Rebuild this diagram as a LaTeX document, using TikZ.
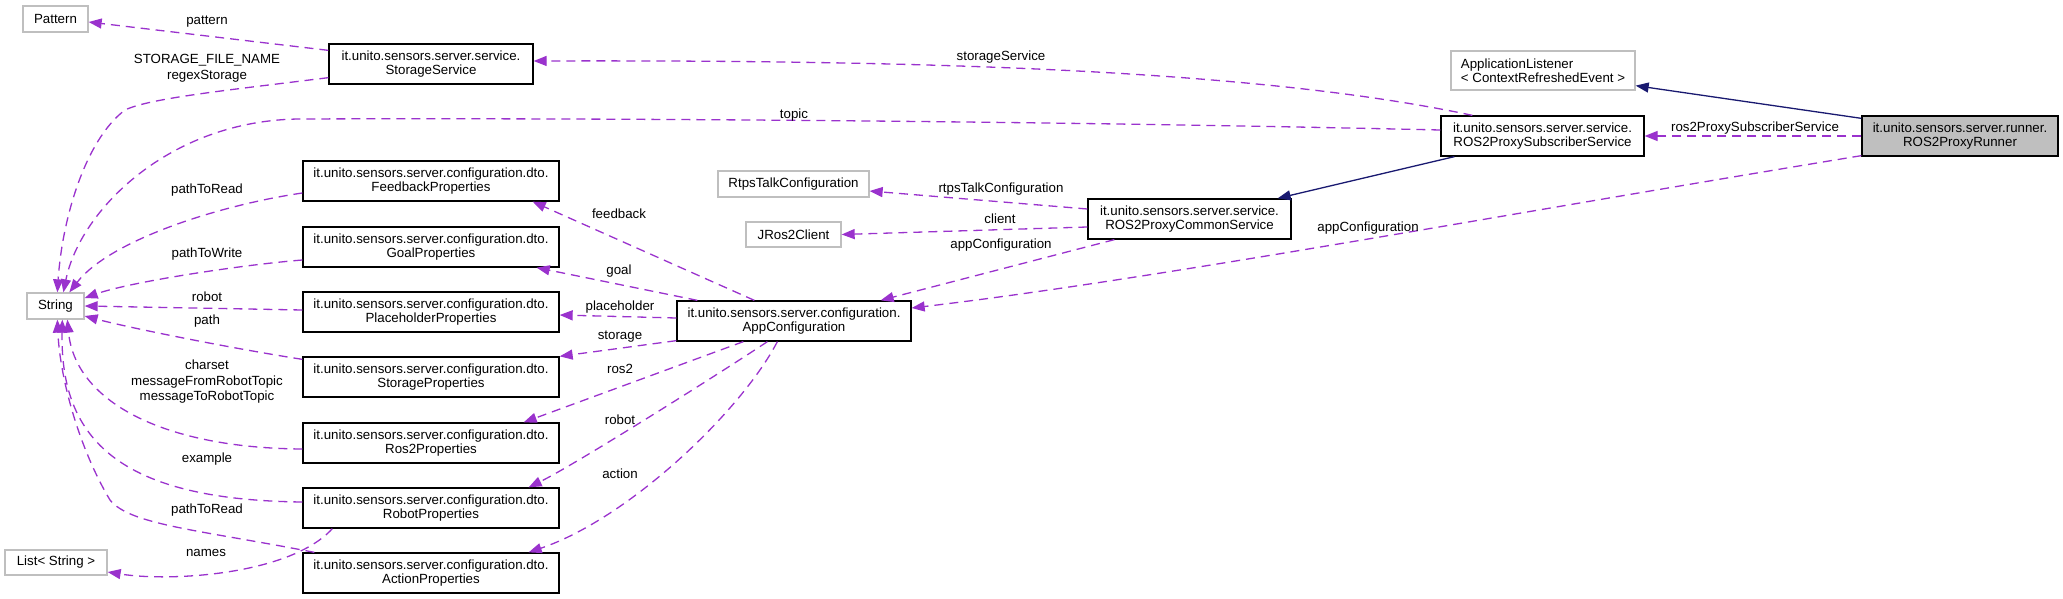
\documentclass[tikz,border=0pt]{standalone}
\usepackage{fontspec}
\setmainfont{Liberation Sans}
\usetikzlibrary{arrows.meta,calc,positioning}
\definecolor{edgeuse}{HTML}{9A32CD}
\definecolor{edgeinh}{HTML}{191970}
\definecolor{boxgray}{HTML}{BFBFBF}

\begin{document}
\begin{tikzpicture}[
    x=1pt, y=-1pt,
    every node/.style={font=\fontsize{13.3}{14.3}\selectfont, inner sep=0pt},
    classbox/.style={draw=black, line width=1.3pt, align=center, minimum height=40pt},
    extbox/.style={draw=boxgray, line width=1.3pt, align=center, minimum height=26pt},
    dtobox/.style={classbox, minimum width=256pt},
    uses/.style={draw=edgeuse, line width=1.3pt, dash pattern=on 9pt off 6pt, -{Triangle[length=13pt,width=10pt]}},
    inherits/.style={draw=edgeinh, line width=1.3pt, -{Triangle[length=13pt,width=10pt]}},
    lbl/.style={text height=9.6pt, text depth=2.8pt},
    mlbl/.style={align=center, font=\fontsize{13.3}{15.5}\selectfont}
]
\useasboundingbox (0,0) rectangle (2063,599);

\node[extbox, minimum width=65pt] (pattern) at (55.5,19) {Pattern};
\node[extbox, minimum width=57pt] (string) at (55.5,306) {String};
\node[extbox, minimum width=102pt, minimum height=25pt] (liststr) at (56,562.5) {List< String >};
\node[classbox, minimum width=204pt] (storsvc) at (431,64) {it.unito.sensors.server.service.\\StorageService};
\foreach \nm/\cy/\dto in {feedback/181/Feedback, goal/247/Goal, placeholder/312/Placeholder, storage/377/Storage, ros2/443/Ros2, robot/508/Robot, action/573/Action}
  \node[dtobox] (\nm-dto) at (431,\cy) {it.unito.sensors.server.configuration.dto.\\\dto Properties};
\node[classbox, minimum width=234pt] (appcfg) at (794,321) {it.unito.sensors.server.configuration.\\AppConfiguration};
\node[extbox, minimum width=151pt] (rtps) at (793.5,184) {RtpsTalkConfiguration};
\node[extbox, minimum width=95pt, minimum height=25pt] (jros) at (793.5,234.5) {JRos2Client};
\node[classbox, minimum width=203pt] (comsvc) at (1189.5,219) {it.unito.sensors.server.service.\\ROS2ProxyCommonService};
\node[classbox, minimum width=203pt] (subsvc) at (1542.5,136) {it.unito.sensors.server.service.\\ROS2ProxySubscriberService};
\node[extbox, align=left, minimum width=184pt, minimum height=39pt] (applst) at (1543,70.5) {ApplicationListener\\< ContextRefreshedEvent >};
\node[classbox, fill=boxgray, minimum width=196pt] (runner) at (1960,136) {it.unito.sensors.server.runner.\\ROS2ProxyRunner};

\draw[uses] ($(storsvc.north west)+(0,7)$) -- ($(pattern.east)+(0,3)$);
\draw[uses] ($(storsvc.south west)+(0,-7)$) .. controls (230,90) and (150,98) .. (125,110) .. controls (85,140) and (62,220) .. ($(string.north west)+(31,0)$);
\draw[uses] ($(subsvc.north west)+(32,0)$) .. controls (1250,68) and (900,60) .. ($(storsvc.east)+(0,-3)$);
\draw[uses] ($(subsvc.west)+(0,-6)$) .. controls (1000,120) and (550,118) .. (300,119) .. controls (170,120) and (80,210) .. ($(string.north west)+(37,0)$);
\draw[inherits] ($(runner.north west)+(0,3)$) -- ($(applst.south east)+(0,-5)$);
\draw[uses] (runner.west) -- (subsvc.east);
\draw[uses] ($(runner.south west)+(0,-1)$) .. controls (1500,215) and (1150,280) .. ($(appcfg.east)+(0,-13)$);
\draw[inherits] ($(subsvc.south west)+(14,0)$) -- ($(comsvc.north east)+(-14,0)$);
\draw[uses] ($(comsvc.west)+(0,-10)$) -- ($(rtps.east)+(0,7)$);
\draw[uses] ($(comsvc.west)+(0,8)$) -- (jros.east);
\draw[uses] ($(comsvc.south west)+(27,0)$) -- ($(appcfg.north east)+(-31,0)$);
\draw[uses] ($(appcfg.north west)+(78,0)$) -- ($(feedback-dto.south east)+(-27,0)$);
\draw[uses] ($(appcfg.north west)+(21,0)$) -- ($(goal-dto.south east)+(-23,0)$);
\draw[uses] ($(appcfg.west)+(0,-3)$) -- ($(placeholder-dto.east)+(0,3)$);
\draw[uses] ($(appcfg.south west)+(0,-1)$) -- (storage-dto.north east);
\draw[uses] ($(appcfg.south west)+(67,0)$) -- ($(ros2-dto.north east)+(-36,0)$);
\draw[uses] ($(appcfg.south west)+(91,0)$) .. controls (728,368) and (578,463) .. ($(robot-dto.north east)+(-31,0)$);
\draw[uses] ($(appcfg.south west)+(101,0)$) .. controls (742,410) and (630,518) .. ($(action-dto.north east)+(-31,0)$);
\draw[uses] ($(feedback-dto.west)+(0,12)$) .. controls (220,205) and (110,240) .. ($(string.north west)+(43,0)$);
\draw[uses] ($(goal-dto.west)+(0,13)$) .. controls (240,265) and (130,282) .. ($(string.east)+(0,-8)$);
\draw[uses] ($(placeholder-dto.west)+(0,-2)$) -- (string.east);
\draw[uses] ($(storage-dto.north west)+(0,3)$) .. controls (230,348) and (130,328) .. ($(string.east)+(0,10)$);
\draw[uses] ($(ros2-dto.west)+(0,6)$) .. controls (160,448) and (75,400) .. ($(string.south west)+(41,0)$);
\draw[uses] ($(robot-dto.west)+(0,-6)$) .. controls (120,500) and (60,440) .. ($(string.south west)+(36,0)$);
\draw[uses] ($(action-dto.north west)+(12,0)$) .. controls (200,530) and (130,525) .. (110,500) .. controls (80,450) and (60,380) .. ($(string.south west)+(31,0)$);
\draw[uses] ($(robot-dto.south west)+(30,0)$) .. controls (290,575) and (170,582) .. ($(liststr.east)+(0,9.5)$);

\node[lbl] (l-pattern) at (207,21) {pattern};
\node[mlbl] (l-regex) at (207,68) {STORAGE\_FILE\_NAME\\regexStorage};
\node[lbl] (l-storsvc) at (1001,57) {storageService};
\node[lbl] (l-topic) at (794,115) {topic};
\node[lbl] (l-subsvc) at (1755,128) {ros2ProxySubscriberService};
\node[lbl] (l-runcfg) at (1368,228) {appConfiguration};
\node[lbl] (l-rtps) at (1001,189) {rtpsTalkConfiguration};
\node[lbl] (l-client) at (1000,220) {client};
\node[lbl] (l-comcfg) at (1001,245) {appConfiguration};
\node[lbl] (l-fbread) at (207,190) {pathToRead};
\node[lbl] (l-feedback) at (619,215) {feedback};
\node[lbl] (l-write) at (207,254) {pathToWrite};
\node[lbl] (l-goal) at (619,271) {goal};
\node[lbl] (l-phrobot) at (207,298) {robot};
\node[lbl] (l-placeholder) at (620,307) {placeholder};
\node[lbl] (l-path) at (207,321) {path};
\node[lbl] (l-storage) at (620,336) {storage};
\node[mlbl] (l-charset) at (207,382) {charset\\messageFromRobotTopic\\messageToRobotTopic};
\node[lbl] (l-ros2) at (620,370) {ros2};
\node[lbl] (l-robot) at (620,421) {robot};
\node[lbl] (l-example) at (207,459) {example};
\node[lbl] (l-action) at (620,475) {action};
\node[lbl] (l-acread) at (207,510) {pathToRead};
\node[lbl] (l-names) at (206,553) {names};
\end{tikzpicture}
\end{document}
